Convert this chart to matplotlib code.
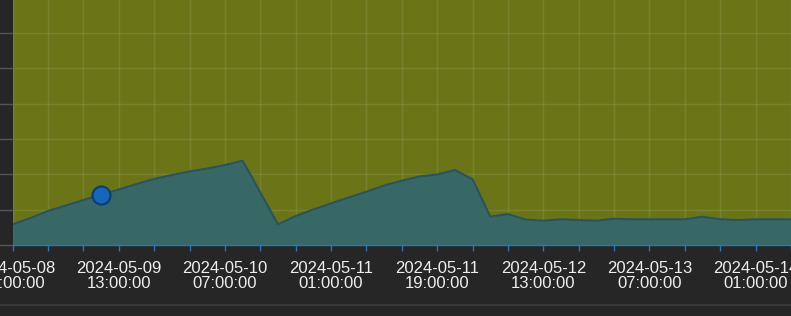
import matplotlib.pyplot as plt
from matplotlib.lines import Line2D
import numpy as np
import pandas as pd

# readings every 3 hours
start = pd.Timestamp('2024-05-08 19:00:00')
values = [5.86, 7.65, 9.63, 11.19, 12.75, 14.22, 15.72, 17.28, 18.70, 19.83,
          20.82, 21.67, 22.66, 23.88, 14.87, 5.86, 8.22, 10.06, 11.81, 13.46,
          15.10, 16.86, 18.22, 19.41, 19.97, 21.25, 18.61, 8.02, 8.78, 7.22,
          6.88, 7.28, 7.08, 6.88, 7.45, 7.28, 7.28, 7.28, 7.28, 8.02,
          7.28, 7.08, 7.28, 7.28, 7.28]
times = pd.date_range(start, periods=len(values), freq='3h')
highlight_idx = 5

BG = '#262626'
PLOT_BG = '#6b7517'
FILL = '#34686b'
LINE = '#29545f'
AXIS_BLUE = '#2a74c0'

plt.rcParams['font.family'] = ['Liberation Sans', 'DejaVu Sans']

fig = plt.figure(figsize=(7.91, 3.16), dpi=100, facecolor=BG)
ax = fig.add_axes([12.7 / 791, 71 / 316, 778.3 / 791, 245 / 316])
ax.set_facecolor(PLOT_BG)

ax.grid(True, color='white', alpha=0.09, linewidth=1, zorder=1)
ax.fill_between(times, values, 0, color=FILL, alpha=0.94, zorder=2, linewidth=0)
ax.plot(times, values, color=LINE, linewidth=1.5, zorder=3)
ax.plot(times[highlight_idx], values[highlight_idx], 'o', ms=13,
        mfc='#1565b8', mec='#0d3d6e', mew=1.5, zorder=5)

major = pd.date_range(start, times[-1], freq='6h')
ax.set_xticks(major)
labels = [t.strftime('%Y-%m-%d\n%H:%M:%S') if i % 3 == 0 else '' for i, t in enumerate(major)]
ax.set_xticklabels(labels, fontsize=12, color='#eeeeee', linespacing=1.0)

ax.set_xlim(times[0], times[-1])
ax.set_ylim(0, 69.4)
ax.set_yticks(np.arange(0, 70, 10))
ax.yaxis.set_ticklabels([])

for side in ['top', 'right', 'left']:
    ax.spines[side].set_visible(False)
ax.spines['bottom'].set_color(AXIS_BLUE)
ax.spines['bottom'].set_linewidth(1)
ax.spines['bottom'].set_zorder(6)

ax.tick_params(axis='x', colors=AXIS_BLUE, length=4, width=1, pad=7.5, labelcolor='#eeeeee')
ax.tick_params(axis='y', colors='#555555', length=13, width=1)

fig.add_artist(Line2D([0, 1], [11 / 316, 11 / 316], color='#3d3d3d', linewidth=1.2,
                      transform=fig.transFigure))

fig.savefig('out.png', dpi=100, facecolor=BG)
